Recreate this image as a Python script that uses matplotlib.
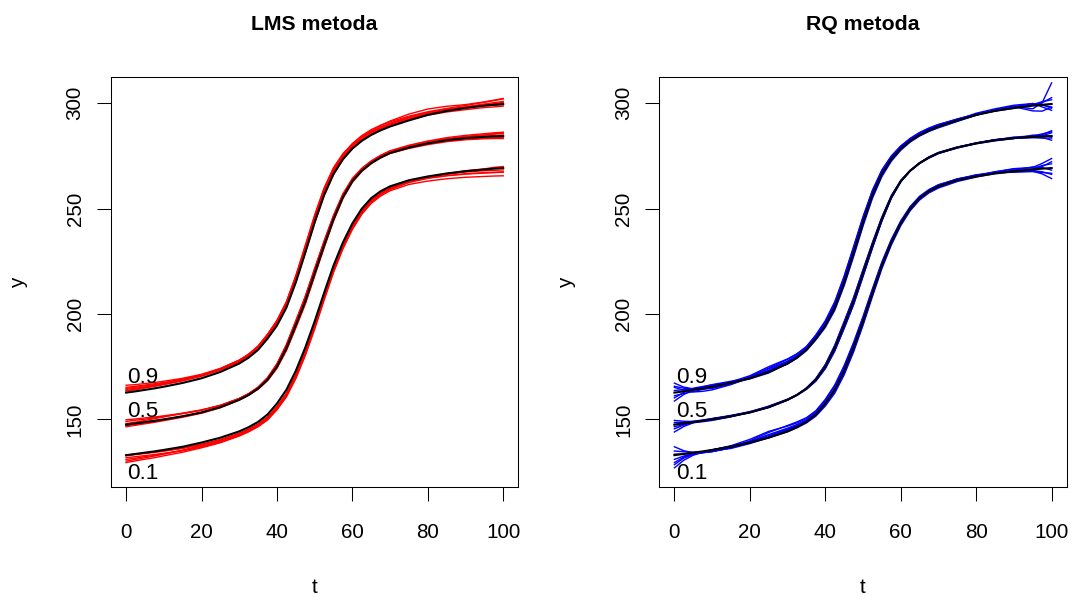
import numpy as np
import matplotlib
matplotlib.use('Agg')
from matplotlib import pyplot as plt

plt.rcParams['font.family'] = ['Liberation Sans', 'DejaVu Sans']

# time grid (finer in the steep middle part)
t = [0, 2.5, 5, 7.5, 10, 15, 20, 25, 30, 32.5, 35, 37.5, 40, 42.5, 45, 47.5,
     50, 52.5, 55, 57.5, 60, 62.5, 65, 67.5, 70, 75, 80, 85, 90, 95, 97.5, 100]

# true quantile curves (black)
true_q90 = [162.7, 163.3, 164.0, 164.7, 165.5, 167.3, 169.5, 172.5, 176.5, 179.3,
            183.0, 188.3, 194.5, 203.0, 215.0, 229.0, 243.5, 256.5, 266.5, 273.5,
            278.5, 282.2, 285.0, 287.2, 289.0, 291.9, 294.5, 296.4, 297.8, 298.9,
            299.3, 299.7]
true_q50 = [147.5, 148.1, 148.7, 149.3, 150.0, 151.5, 153.3, 155.8, 159.3, 161.6,
            164.6, 168.8, 175.0, 183.7, 194.7, 206.0, 219.3, 232.5, 245.0, 255.5,
            263.0, 268.0, 271.6, 274.3, 276.4, 279.0, 281.0, 282.5, 283.5, 284.1,
            284.3, 284.5]
true_q10 = [133.0, 133.6, 134.2, 134.8, 135.5, 137.0, 139.0, 141.3, 144.3, 146.3,
            148.8, 152.3, 157.5, 164.0, 173.0, 184.0, 196.5, 210.0, 223.0, 234.0,
            243.0, 250.0, 255.0, 258.3, 260.6, 263.5, 265.3, 266.7, 267.8, 268.6,
            269.0, 269.3]

# LMS estimates, given as deviation from the true curve
lms_q90 = [
    [2.5, 2.4, 2.3, 2.2, 2.0, 1.8, 1.6, 1.5, 1.5, 1.6, 1.8, 2.0, 2.3, 2.6, 2.8, 3.0, 3.0, 2.8, 2.5, 2.2, 2.0, 2.0, 2.1, 2.3, 2.6, 3.0, 2.8, 2.2, 1.6, 1.8, 2.2, 2.6],
    [1.5, 1.5, 1.4, 1.4, 1.3, 1.2, 1.1, 1.0, 0.9, 0.9, 1.0, 1.2, 1.4, 1.6, 1.8, 1.9, 1.9, 1.8, 1.6, 1.4, 1.3, 1.3, 1.4, 1.5, 1.6, 1.6, 1.2, 0.8, 0.6, 0.8, 1.0, 1.2],
    [3.5, 3.2, 3.0, 2.8, 2.6, 2.2, 1.9, 1.7, 1.6, 1.6, 1.7, 2.0, 2.4, 2.8, 3.2, 3.5, 3.5, 3.3, 3.0, 2.6, 2.2, 1.9, 1.6, 1.5, 1.4, 1.2, 0.8, 0.4, 0.2, 0.3, 0.5, 0.8],
    [0.8, 0.8, 0.9, 1.0, 1.0, 1.0, 1.0, 0.9, 0.8, 0.7, 0.6, 0.5, 0.4, 0.3, 0.2, 0.0, -0.3, -0.5, -0.4, -0.2, 0.0, 0.3, 0.6, 0.7, 0.8, 0.3, -0.1, -0.5, -0.8, -0.9, -1.0, -1.0],
    [2.0, 2.0, 1.9, 1.8, 1.7, 1.6, 1.5, 1.5, 1.6, 1.6, 1.7, 1.9, 2.2, 2.4, 2.6, 2.6, 2.5, 2.4, 2.3, 2.3, 2.4, 2.5, 2.5, 2.4, 2.3, 2.0, 1.5, 1.2, 1.2, 1.6, 2.0, 2.4],
    [1.0, 1.0, 1.1, 1.1, 1.2, 1.3, 1.3, 1.2, 1.0, 0.9, 0.9, 1.0, 1.1, 1.2, 1.2, 1.2, 1.1, 1.0, 0.9, 0.9, 1.0, 1.1, 1.2, 1.2, 1.2, 0.8, 0.4, 0.2, 0.2, 0.0, -0.2, -0.4],
]
lms_q50 = [
    [1.5, 1.5, 1.4, 1.4, 1.3, 1.2, 1.0, 0.8, 0.6, 0.6, 0.7, 0.9, 1.2, 1.5, 1.8, 2.0, 2.0, 1.8, 1.5, 1.2, 1.0, 0.9, 0.8, 0.8, 0.8, 0.9, 0.9, 0.8, 0.8, 0.9, 1.2, 1.6],
    [-1.0, -0.9, -0.8, -0.7, -0.6, -0.5, -0.4, -0.3, -0.2, -0.2, -0.3, -0.5, -0.8, -1.1, -1.3, -1.4, -1.3, -1.1, -0.9, -0.7, -0.5, -0.3, -0.2, -0.2, -0.2, -0.4, -0.6, -0.7, -0.8, -0.9, -1.0, -1.2],
    [0.5, 0.6, 0.8, 1.0, 1.2, 1.4, 1.2, 0.9, 0.6, 0.5, 0.5, 0.7, 1.0, 1.3, 1.5, 1.6, 1.5, 1.3, 1.1, 0.9, 0.8, 0.8, 0.8, 0.7, 0.6, 0.4, 0.3, 0.4, 0.6, 0.9, 1.1, 1.3],
    [-0.5, -0.5, -0.4, -0.4, -0.3, -0.2, -0.1, 0.0, 0.1, 0.1, 0.0, -0.2, -0.5, -0.8, -1.0, -1.0, -0.9, -0.7, -0.5, -0.3, 0.0, 0.2, 0.3, 0.3, 0.4, 0.3, 0.0, -0.3, -0.5, -0.6, -0.7, -0.7],
    [2.3, 2.1, 2.0, 1.8, 1.7, 1.4, 1.1, 0.8, 0.6, 0.6, 0.7, 1.0, 1.4, 1.8, 2.2, 2.4, 2.4, 2.2, 1.9, 1.6, 1.4, 1.2, 1.1, 1.1, 1.1, 1.1, 1.1, 1.2, 1.3, 1.5, 1.7, 1.8],
    [0.2, 0.2, 0.1, 0.1, 0.0, -0.1, -0.1, -0.1, 0.0, 0.1, 0.2, 0.3, 0.5, 0.6, 0.7, 0.7, 0.6, 0.5, 0.4, 0.3, 0.3, 0.3, 0.3, 0.3, 0.2, 0.1, 0.0, 0.0, 0.1, 0.3, 0.4, 0.5],
]
lms_q10 = [
    [-2.0, -2.0, -1.9, -1.9, -1.8, -1.8, -1.8, -1.7, -1.6, -1.7, -1.9, -2.2, -2.5, -2.8, -3.0, -3.0, -2.8, -2.6, -2.4, -2.2, -2.0, -1.8, -1.6, -1.4, -1.2, -0.8, -0.5, -0.3, -0.1, 0.1, 0.2, 0.3],
    [-3.5, -3.3, -3.1, -3.0, -2.8, -2.6, -2.5, -2.4, -2.2, -2.2, -2.3, -2.6, -3.0, -3.4, -3.7, -3.8, -3.7, -3.5, -3.3, -3.1, -2.9, -2.7, -2.5, -2.3, -2.1, -2.0, -2.2, -2.5, -2.9, -3.3, -3.5, -3.7],
    [-0.3, -0.3, -0.4, -0.5, -0.6, -0.8, -1.0, -1.0, -0.9, -0.9, -1.0, -1.2, -1.5, -1.8, -2.0, -2.0, -1.8, -1.6, -1.4, -1.2, -1.0, -0.9, -0.8, -0.7, -0.6, -0.4, -0.2, 0.0, 0.2, 0.3, 0.6, 0.7],
    [-1.2, -1.3, -1.4, -1.5, -1.6, -1.9, -2.1, -2.1, -2.0, -2.0, -2.1, -2.3, -2.6, -2.9, -3.1, -3.2, -3.1, -2.9, -2.7, -2.5, -2.3, -2.1, -1.9, -1.7, -1.5, -1.1, -0.9, -1.0, -1.2, -1.5, -1.7, -1.8],
    [-2.8, -2.6, -2.4, -2.2, -2.0, -1.6, -1.3, -1.2, -1.2, -1.2, -1.3, -1.5, -1.8, -2.1, -2.3, -2.3, -2.2, -2.0, -1.8, -1.6, -1.5, -1.4, -1.3, -1.2, -1.1, -0.8, -0.5, -0.3, -0.4, -0.6, -0.8, -0.9],
    [0.0, -0.1, -0.2, -0.3, -0.4, -0.6, -0.8, -0.9, -1.0, -1.0, -1.1, -1.3, -1.5, -1.7, -1.8, -1.8, -1.7, -1.5, -1.4, -1.3, -1.2, -1.1, -1.0, -0.9, -0.8, -0.6, -0.8, -1.1, -1.4, -1.7, -1.9, -2.0],
]

# RQ estimates, deviation from the true curve
rq_q90 = [
    [4.5, 2.0, 0.5, 0.0, -0.5, 0.0, 0.8, 1.8, 2.0, 1.8, 1.5, 1.5, 1.8, 2.2, 2.5, 2.5, 2.2, 1.8, 1.5, 1.3, 1.2, 1.2, 1.2, 1.1, 1.0, 0.5, 0.0, 0.0, 0.5, 1.0, 0.0, -1.5],
    [-4.0, -1.5, 0.0, 0.7, 1.0, 0.8, 0.3, 0.0, -0.2, -0.3, -0.4, -0.6, -0.9, -1.3, -1.6, -1.8, -1.8, -1.6, -1.3, -1.0, -0.8, -0.6, -0.5, -0.4, -0.4, -0.2, 0.0, 0.5, 0.8, -1.5, 1.0, 10.0],
    [2.5, 0.5, -1.0, -1.4, -1.5, -0.8, 0.5, 1.5, 1.0, 0.7, 0.5, 0.5, 0.8, 1.2, 1.5, 1.6, 1.5, 1.3, 1.1, 0.9, 0.8, 0.7, 0.6, 0.5, 0.3, 0.3, 0.8, 1.0, 1.3, 1.0, 0.0, -2.0],
    [-2.5, -0.5, 0.8, 0.9, 0.8, 0.2, -0.3, -0.5, 0.0, 0.3, 0.4, 0.3, 0.0, -0.4, -0.7, -0.8, -0.7, -0.5, -0.3, -0.2, -0.2, -0.3, -0.4, -0.5, -0.6, -0.5, 0.0, 0.4, 0.8, 0.2, 1.0, 3.0],
    [1.0, 0.8, 0.5, 0.3, 0.2, 0.5, 1.2, 2.5, 2.2, 1.8, 1.5, 1.8, 2.3, 2.8, 3.0, 3.0, 2.7, 2.3, 1.9, 1.5, 1.2, 0.9, 0.6, 0.3, 0.0, -0.3, -0.2, 0.3, 0.6, -2.5, -3.0, -1.5],
    [-1.5, -1.0, -0.8, -0.5, -0.3, 0.0, 0.2, 0.5, 0.5, 0.4, 0.2, 0.0, -0.3, -0.6, -0.9, -1.0, -1.0, -0.8, -0.6, -0.4, -0.2, 0.0, 0.2, 0.3, 0.5, 0.6, 0.4, 0.0, -0.2, 0.5, 1.5, 2.0],
    [3.0, 1.5, 0.3, -0.3, -0.8, -0.6, 0.0, 0.8, 1.2, 1.1, 1.0, 1.0, 1.2, 1.5, 1.6, 1.6, 1.5, 1.3, 1.1, 1.0, 1.0, 0.9, 0.9, 0.9, 0.9, 0.7, 0.3, 0.0, 0.2, 1.0, -1.0, -3.0],
]
rq_q50 = [
    [-3.5, -1.5, -0.3, 0.1, 0.3, 0.2, 0.0, -0.2, -0.2, -0.1, 0.1, 0.4, 0.8, 1.2, 1.5, 1.6, 1.5, 1.2, 0.9, 0.6, 0.4, 0.2, 0.1, 0.0, 0.0, 0.1, 0.2, 0.3, 0.2, -0.3, 0.3, 1.5],
    [2.0, 1.0, 0.3, 0.0, -0.3, -0.2, 0.2, 0.5, 0.3, 0.1, -0.1, -0.4, -0.8, -1.2, -1.5, -1.6, -1.5, -1.2, -0.9, -0.6, -0.3, -0.1, 0.1, 0.2, 0.1, 0.0, -0.2, -0.3, -0.2, 0.8, 0.5, -0.5],
    [-2.0, -0.8, 0.0, 0.3, 0.4, 0.4, 0.2, 0.0, 0.0, 0.1, 0.3, 0.6, 1.0, 1.4, 1.7, 1.8, 1.7, 1.4, 1.0, 0.6, 0.3, 0.1, -0.1, -0.2, -0.2, 0.0, 0.2, 0.2, 0.0, -0.2, 0.8, 2.5],
    [1.0, 0.5, 0.2, 0.1, 0.0, 0.2, 0.4, 0.3, 0.0, -0.2, -0.4, -0.7, -1.0, -1.3, -1.5, -1.5, -1.3, -1.0, -0.7, -0.4, -0.2, 0.0, 0.2, 0.3, 0.3, 0.3, 0.1, -0.1, -0.2, 0.3, -0.5, -2.0],
    [-1.0, -0.5, -0.3, -0.4, -0.5, -0.3, 0.0, 0.0, -0.1, 0.0, 0.2, 0.4, 0.6, 0.8, 0.9, 0.9, 0.8, 0.6, 0.4, 0.2, 0.0, -0.1, 0.0, 0.1, 0.1, 0.2, 0.1, 0.1, 0.5, 0.4, 1.2, 2.0],
    [0.0, 0.2, 0.4, 0.4, 0.3, 0.0, -0.2, -0.1, 0.1, 0.1, 0.0, -0.2, -0.4, -0.6, -0.8, -0.8, -0.7, -0.5, -0.3, -0.2, -0.1, -0.1, -0.1, -0.2, -0.2, -0.2, 0.0, 0.2, 0.0, -0.4, -0.8, -1.0],
]
rq_q10 = [
    [4.0, 1.5, 0.0, -0.5, -0.8, -0.3, 0.8, 2.5, 2.8, 2.5, 2.0, 1.8, 2.0, 2.3, 2.5, 2.5, 2.3, 2.0, 1.7, 1.4, 1.2, 1.0, 0.9, 0.8, 0.8, 0.5, 0.3, 0.8, 1.2, 1.0, 2.5, 4.5],
    [-6.0, -3.0, -1.2, -0.5, 0.0, 0.3, 0.2, 0.0, -0.2, -0.3, -0.5, -0.8, -1.2, -1.6, -1.9, -2.0, -1.9, -1.7, -1.5, -1.3, -1.1, -1.0, -0.9, -0.8, -0.8, -0.6, -0.3, 0.0, -0.2, -0.8, -2.5, -5.0],
    [-3.5, -1.5, -0.5, -0.6, -0.8, -0.5, 0.5, 1.5, 1.5, 1.2, 0.8, 0.6, 0.5, 0.6, 0.7, 0.8, 0.8, 0.7, 0.6, 0.6, 0.6, 0.6, 0.6, 0.6, 0.6, 0.7, 0.5, 0.2, 0.5, 1.2, 0.5, -1.0],
    [2.0, 1.0, 0.2, -0.2, -0.5, -0.8, -0.5, 0.0, 0.5, 0.5, 0.3, 0.0, -0.4, -0.8, -1.1, -1.2, -1.1, -0.9, -0.7, -0.5, -0.3, -0.2, -0.2, -0.3, -0.3, 0.0, 0.3, 0.5, 0.3, -0.5, 1.0, 3.0],
    [-2.0, -1.0, -0.5, -0.2, 0.0, 0.5, 1.5, 3.0, 2.5, 2.0, 1.5, 1.3, 1.5, 1.8, 2.0, 2.0, 1.8, 1.5, 1.2, 0.9, 0.6, 0.4, 0.2, 0.2, 0.2, 0.5, 0.8, 0.3, -0.5, -1.0, -1.8, -2.5],
    [0.5, 0.0, -0.5, -0.7, -0.8, -0.5, 0.0, 0.5, 0.8, 0.7, 0.5, 0.2, -0.2, -0.5, -0.7, -0.8, -0.7, -0.5, -0.3, -0.1, 0.1, 0.2, 0.3, 0.3, 0.3, 0.4, 0.6, 0.8, 1.0, 0.3, 1.5, 2.0],
    [-4.5, -2.0, -0.8, -0.3, 0.0, 0.2, 0.5, 1.0, 1.2, 1.1, 0.8, 0.6, 0.5, 0.5, 0.6, 0.6, 0.5, 0.3, 0.1, -0.1, -0.2, -0.3, -0.3, -0.3, -0.3, -0.1, 0.2, 0.5, 0.0, -0.5, -1.5, -3.0],
]

quantile_labels = ['0.9', '0.5', '0.1']
label_y = [167.1, 151.3, 121.5]   # baseline of the labels

W, H = 1074, 596


def draw_panel(ax, title, fits, color):
    trues = [true_q90, true_q50, true_q10]
    for true_curve, devs in zip(trues, fits):
        for dev in devs:
            ax.plot(t, np.array(true_curve) + np.array(dev), color=color, lw=1.0)
    for true_curve in trues:
        ax.plot(t, true_curve, color='black', lw=1.5)
    for lab, yy in zip(quantile_labels, label_y):
        ax.text(0.4, yy, lab, fontsize=16.2, ha='left', va='baseline')

    ax.set_xlim(-4, 104)
    ax.set_ylim(117.9, 312.5)
    ax.set_xticks([0, 20, 40, 60, 80, 100])
    ax.set_yticks([150, 200, 250, 300])
    ax.tick_params(direction='out', length=10, width=0.75, labelsize=14.9)
    ax.tick_params(axis='x', pad=16)
    ax.tick_params(axis='y', pad=9)
    for lab in ax.get_yticklabels():
        lab.set_rotation(90)
        lab.set_va('center')
    for s in ax.spines.values():
        s.set_linewidth(0.75)
    ax.set_title(title, fontweight='bold', fontsize=15.3, pad=33.6)


fig = plt.figure(figsize=(W / 100, H / 100), dpi=100)

ax1 = fig.add_axes([111 / W, 1 - 487 / H, (518.3 - 111) / W, 410 / H])
draw_panel(ax1, 'LMS metoda', [lms_q90, lms_q50, lms_q10], '#FF0000')
fig.text(314.7 / W, 1 - 593 / H, 't', fontsize=14.9, ha='center', va='baseline')
fig.text(18 / W, 1 - 282 / H, 'y', fontsize=14.9, rotation=90, ha='center', va='center')

ax2 = fig.add_axes([659.3 / W, 1 - 487 / H, (1066.7 - 659.3) / W, 410 / H])
draw_panel(ax2, 'RQ metoda', [rq_q90, rq_q50, rq_q10], '#0000FF')
fig.text(863 / W, 1 - 593 / H, 't', fontsize=14.9, ha='center', va='baseline')
fig.text(566 / W, 1 - 282 / H, 'y', fontsize=14.9, rotation=90, ha='center', va='center')

fig.savefig('out.png', dpi=100)
